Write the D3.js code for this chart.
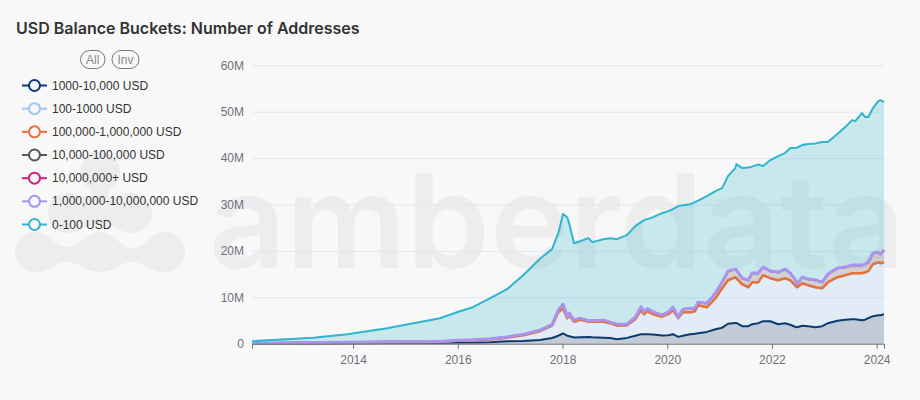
<!DOCTYPE html>
<html>
<head>
<meta charset="utf-8">
<script src="https://cdn.jsdelivr.net/npm/d3@7"></script>
<style>
  html, body { margin: 0; padding: 0; background: #f8f8f8; }
  svg { display: block; font-family: "Liberation Sans", Arial, sans-serif; }
</style>
</head>
<body>
<div id="chart"></div>
<script>
// Values are in millions of addresses
const years = [2012.07,2013.24,2013.89,2014.65,2015.66,2016.01,2016.29,2016.62,2016.94,2017.25,2017.57,2017.80,2017.92,2018.01,2018.09,2018.13,2018.22,2018.34,2018.49,2018.57,2018.78,2018.91,2019.04,2019.23,2019.39,2019.50,2019.56,2019.62,2019.73,2019.90,2020.02,2020.11,2020.21,2020.30,2020.44,2020.53,2020.59,2020.76,2020.92,2021.05,2021.16,2021.30,2021.32,2021.43,2021.55,2021.62,2021.74,2021.83,2021.97,2022.12,2022.25,2022.35,2022.44,2022.48,2022.58,2022.69,2022.83,2022.96,2023.07,2023.25,2023.40,2023.53,2023.59,2023.72,2023.78,2023.84,2023.93,2024.03,2024.07,2024.14];

const usd1kTo10k = [.04,.06,.11,.13,.19,.24,.28,.32,.54,.58,.80,1.23,1.72,2.20,1.72,1.62,1.34,1.40,1.47,1.40,1.29,1.23,.97,1.25,1.72,2.05,2.05,2.05,1.98,1.77,1.83,2.05,1.47,1.72,2.05,2.16,2.26,2.54,3.12,3.45,4.31,4.48,4.48,3.77,3.77,4.20,4.42,4.85,4.85,4.20,4.42,4.09,3.66,3.56,3.88,3.77,3.56,3.77,4.42,4.96,5.17,5.28,5.28,5.06,5.17,5.50,5.93,6.14,6.14,6.36];
const usd100To1k = [.02,.09,.13,.19,.17,.42,.46,.59,.74,1.24,1.88,2.63,5.03,5.41,3.74,4.50,3.37,3.74,3.25,3.31,3.42,3.16,2.88,2.71,3.53,5.13,4.27,4.92,4.33,4.01,4.49,5.13,3.99,5.02,4.70,4.81,5.98,5.27,6.63,8.45,9.31,9.79,9.57,8.99,8.34,8.99,8.78,9.85,9.21,9.42,9.64,9.53,8.88,8.56,9.10,8.78,8.56,8.13,8.78,9.31,9.53,9.85,9.85,10.07,10.18,10.07,11.15,11.36,11.15,11.15];
const usd100kTo1m = [0,0,0,0,0,.01,.01,.01,.01,.01,.02,.02,.03,.04,.03,.03,.03,.03,.03,.03,.03,.03,.03,.03,.03,.04,.04,.04,.04,.04,.04,.04,.04,.04,.04,.04,.05,.05,.05,.06,.06,.06,.06,.06,.06,.06,.06,.06,.06,.06,.06,.06,.06,.06,.06,.06,.06,.06,.06,.06,.06,.06,.06,.06,.06,.06,.06,.06,.06,.06];
const usd10kTo100k = [.04,.09,.09,.11,.11,.09,.11,.15,.15,.17,.22,.22,.43,.86,.32,.43,.32,.32,.22,.22,.32,.22,.32,.22,.43,.71,.54,.54,.50,.32,.43,.65,.22,.65,.86,.65,.65,.86,1.08,1.29,1.94,1.72,1.72,1.29,1.51,1.94,1.94,1.72,1.51,1.72,1.94,1.51,1.29,.65,1.29,1.29,1.51,1.29,1.72,1.94,1.72,1.72,1.72,1.72,1.72,1.94,2.37,2.16,1.94,2.59];
const usd10mPlus = [0,0,0,0,0,0,0,0,0,0,0,0,0,.01,0,0,0,0,0,0,0,0,0,0,0,.01,0,0,0,0,0,0,0,0,0,0,0,0,0,0,.01,.01,.01,.01,.01,.01,.01,.01,.01,.01,.01,.01,.01,.01,.01,.01,.01,.01,.01,.01,.01,.01,.01,.01,.01,.01,.01,.01,.01,.01];
const usd1mTo10m = [0,0,0,0,0,0,0,.01,.01,.01,.01,.01,.02,.02,.01,.01,.01,.01,.01,.01,.01,.01,.01,.01,.01,.01,.01,.01,.01,.01,.01,.01,.01,.01,.01,.01,.02,.02,.02,.02,.02,.02,.02,.02,.02,.02,.02,.02,.02,.02,.02,.02,.02,.02,.02,.02,.02,.02,.02,.02,.02,.02,.02,.02,.02,.02,.02,.02,.02,.02];
const usd0To100 = [.43,1.06,1.72,2.91,5.02,6.14,7.00,8.73,10.30,12.76,15.37,16.27,16.59,19.40,21.44,19.18,16.59,16.59,17.78,16.92,17.46,18.10,18.32,19.18,19.61,18.25,19.72,19.29,20.41,21.98,21.77,21.12,23.92,22.41,22.41,22.84,21.87,23.06,21.98,20.26,20.47,21.77,22.84,23.71,24.24,22.95,23.38,21.77,23.92,25.00,25.00,26.94,28.23,29.42,28.45,29.09,29.42,30.17,28.45,28.88,30.17,31.25,31.03,32.76,31.68,31.25,31.25,32.54,33.19,31.89];

const seriesNames = ["1000-10,000 USD", "100-1000 USD", "100,000-1,000,000 USD", "10,000-100,000 USD", "10,000,000+ USD", "1,000,000-10,000,000 USD", "0-100 USD"];
const seriesValues = [usd1kTo10k, usd100To1k, usd100kTo1m, usd10kTo100k, usd10mPlus, usd1mTo10m, usd0To100];
const seriesColors = ["#0b3a6f", "#9cc8f5", "#e8713a", "#55565a", "#d6217f", "#a994f0", "#2fb5cd"];
const xTicks = [2014, 2016, 2018, 2020, 2022, 2024];
const yTicks = [0, 10, 20, 30, 40, 50, 60];

const width = 920;
const height = 400;
const margin = { top: 65.3, right: 36, bottom: 56.3, left: 252 };
const watermarkColor = "#ededee";

const svg = d3.select("#chart").append("svg").attr("width", width).attr("height", height);

// Watermark sits behind everything
const mark = svg.append("g").attr("fill", watermarkColor);
mark.append("circle").attr("cx", 100).attr("cy", 172).attr("r", 20);
mark.append("line")
  .attr("x1", 100).attr("y1", 172).attr("x2", 100).attr("y2", 208)
  .attr("stroke", watermarkColor).attr("stroke-width", 18);
mark.append("path")
  .attr("d", "M68,193 C80,193 86,200 100,200 C114,200 120,193 132,193 A20,20 0 0 1 132,233 C120,233 114,224 100,224 C86,224 80,233 68,233 A20,20 0 0 1 68,193 Z");
mark.append("path")
  .attr("d", "M35,232 C50,232 55,247 67,247 C80,247 85,232 100,232 C115,232 120,248 132,248 C145,248 150,232 165,232 A20,20 0 0 1 165,272 C150,272 145,262 132,262 C120,262 115,272 100,272 C85,272 80,262 67,262 C55,262 50,272 35,272 A20,20 0 0 1 35,232 Z");
mark.append("text")
  .attr("x", 209).attr("y", 268)
  .attr("font-family", "Inter")
  .attr("font-size", 130).attr("font-weight", 600)
  .attr("textLength", 696).attr("lengthAdjust", "spacingAndGlyphs")
  .text("amberdata");

svg.append("text")
  .attr("x", 16).attr("y", 34)
  .attr("font-family", "Inter")
  .attr("font-size", 16).attr("font-weight", 600).attr("fill", "#333")
  .text("USD Balance Buckets: Number of Addresses");

const x = d3.scaleLinear().domain([years[0], years[years.length - 1]]).range([margin.left, width - margin.right]);
const y = d3.scaleLinear().domain([0, 60]).range([height - margin.bottom, margin.top]);

// Gridlines and value labels
svg.append("g")
  .attr("transform", `translate(${margin.left},0)`)
  .call(d3.axisLeft(y).tickValues(yTicks).tickSize(-(width - margin.left - margin.right)).tickPadding(8)
    .tickFormat((d) => (d === 0 ? "0" : `${d}M`)))
  .call((g) => g.select(".domain").remove())
  .call((g) => g.selectAll("line").attr("stroke", "#e0e6f1"))
  .call((g) => g.selectAll("text").attr("fill", "#6e7079").attr("font-size", 12).attr("font-family", "Liberation Sans"));

// Stacked bands, legend order from the bottom up
const rows = years.map((year, i) => {
  const row = { year };
  seriesNames.forEach((name, s) => { row[name] = seriesValues[s][i]; });
  return row;
});
const stacked = d3.stack().keys(seriesNames)(rows);

const area = d3.area().x((d) => x(d.data.year)).y0((d) => y(d[0])).y1((d) => y(d[1]));
const line = d3.line().x((d) => x(d.data.year)).y((d) => y(d[1]));

svg.append("g").selectAll("path")
  .data(stacked)
  .join("path")
  .attr("d", area)
  .attr("fill", (d, i) => seriesColors[i])
  .attr("fill-opacity", 0.23);

svg.append("g").selectAll("path")
  .data(stacked)
  .join("path")
  .attr("d", line)
  .attr("fill", "none")
  .attr("stroke", (d, i) => seriesColors[i])
  .attr("stroke-width", (d, i) => (i === 5 ? 3 : i === 2 ? 2.5 : 2))
  .attr("stroke-linejoin", "round");

// Time axis
svg.append("g")
  .attr("transform", `translate(0,${height - margin.bottom})`)
  .call(d3.axisBottom(x).tickValues(xTicks).tickSize(5).tickPadding(7).tickFormat(d3.format("d")))
  .call((g) => g.select(".domain").attr("stroke", "#6e7079"))
  .call((g) => g.selectAll("line").attr("stroke", "#6e7079"))
  .call((g) => g.selectAll("text").attr("fill", "#6e7079").attr("font-size", 12).attr("font-family", "Liberation Sans"));

// Legend selector pills
const pills = svg.append("g").selectAll("g")
  .data([{ label: "All", x: 80.5, w: 24.5 }, { label: "Inv", x: 112, w: 27 }])
  .join("g");
pills.append("rect")
  .attr("x", (d) => d.x).attr("y", 50.5).attr("width", (d) => d.w).attr("height", 18).attr("rx", 9)
  .attr("fill", "none").attr("stroke", "#777");
pills.append("text")
  .attr("x", (d) => d.x + d.w / 2).attr("y", 63.5).attr("text-anchor", "middle")
  .attr("font-size", 12).attr("fill", "#888")
  .text((d) => d.label);

// Legend
const legendRow = d3.scaleLinear().domain([0, 6]).range([85.5, 224.5]);
const legend = svg.append("g").selectAll("g")
  .data(seriesNames)
  .join("g")
  .attr("transform", (d, i) => `translate(0,${legendRow(i)})`);
legend.append("line")
  .attr("x1", 22).attr("x2", 47)
  .attr("stroke", (d, i) => seriesColors[i]).attr("stroke-width", 2);
legend.append("circle")
  .attr("cx", 34.5).attr("r", 5.5)
  .attr("fill", "#f8f8f8")
  .attr("stroke", (d, i) => seriesColors[i]).attr("stroke-width", 2);
legend.append("text")
  .attr("x", 52).attr("y", 4)
  .attr("font-size", 12).attr("fill", "#333")
  .text((d) => d);
</script>
</body>
</html>
